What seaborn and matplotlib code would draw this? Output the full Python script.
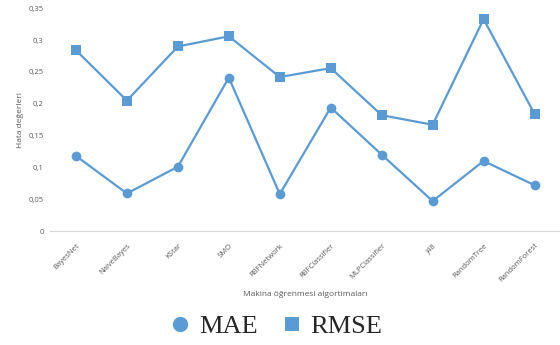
import numpy as np
import pandas as pd
import matplotlib
matplotlib.use("Agg")
import matplotlib.pyplot as plt
import seaborn as sns
from matplotlib.lines import Line2D
from matplotlib.ticker import FuncFormatter

# Data

algorithms = ["BayesNet", "NaiveBayes", "KStar", "SMO", "RBFNetwork",
              "RBFClassifier", "MLPClassifier", "J48", "RandomTree", "RandomForest"]
mae = [0.118, 0.059, 0.101, 0.241, 0.058, 0.194, 0.120, 0.047, 0.110, 0.072]
rmse = [0.284, 0.205, 0.290, 0.306, 0.242, 0.256, 0.182, 0.167, 0.333, 0.184]

df = pd.DataFrame({
    "Algoritma": algorithms * 2,
    "Hata": mae + rmse,
    "Metrik": ["MAE"] * len(algorithms) + ["RMSE"] * len(algorithms),
})
df["pos"] = list(range(len(algorithms))) * 2

sns.set_style("white")
plt.rcParams["font.family"] = ["Open Sans", "DejaVu Sans"]

blue = "#5B9BD5"
grey = "#595959"

fig = plt.figure(figsize=(5.6, 3.45), dpi=100)
ax = fig.add_axes([50.5 / 560, 1 - 231 / 345, 1 - 50.5 / 560, (231 - 8.3) / 345])

sns.lineplot(
    data=df, x="pos", y="Hata", hue="Metrik", style="Metrik",
    palette={"MAE": blue, "RMSE": blue},
    markers={"MAE": "o", "RMSE": "s"}, dashes=False,
    markersize=7, markeredgewidth=0, linewidth=1.6,
    legend=False, ax=ax,
)

ax.set_xlim(-0.5, len(algorithms) - 0.5)
ax.set_ylim(0, 0.35)
ax.set_yticks(np.arange(0, 0.351, 0.05))
ax.yaxis.set_major_formatter(FuncFormatter(lambda v, p: ("%g" % round(v, 2)).replace(".", ",")))
ax.set_xticks(range(len(algorithms)))
ax.set_xticklabels(algorithms, rotation=45, ha="right", rotation_mode="anchor")

ax.tick_params(axis="both", length=0, labelsize=5.5, colors=grey)
ax.tick_params(axis="y", pad=5)
ax.tick_params(axis="x", pad=8)

for s in ["top", "right", "left"]:
    ax.spines[s].set_visible(False)
ax.spines["bottom"].set_color("#D9D9D9")
ax.spines["bottom"].set_linewidth(0.8)

ax.set_xlabel("Makina öğrenmesi algortimaları", fontsize=6, color=grey, labelpad=5)
ax.set_ylabel("Hata değerleri", fontsize=6, color=grey)
ax.yaxis.set_label_coords(-(50.5 - 24) / (560 - 50.5), 0.5)

# Legend

handles = [
    Line2D([], [], linestyle="none", marker="o", markersize=11, color=blue, markeredgewidth=0),
    Line2D([], [], linestyle="none", marker="s", markersize=10, color=blue, markeredgewidth=0),
]
fig.legend(
    handles, ["MAE", "RMSE"], loc="center", bbox_to_anchor=(0.495, 1 - 326 / 345),
    ncol=2, frameon=False, handlelength=0.6, handletextpad=0.4, columnspacing=1.0,
    prop={"family": "Liberation Serif", "size": 19},
)

fig.savefig("out.png", dpi=100)
